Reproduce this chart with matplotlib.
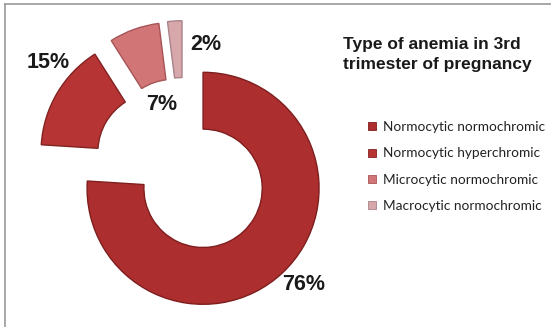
import matplotlib
matplotlib.use("Agg")
import matplotlib.pyplot as plt
import numpy as np
from matplotlib.lines import Line2D

categories = ["Normocytic normochromic", "Normocytic hyperchromic",
              "Microcytic normochromic", "Macrocytic normochromic"]
values = [76, 15, 7, 2]
value_labels = ["76%", "15%", "7%", "2%"]
title = "Type of anemia in 3rd\ntrimester of pregnancy"

colors = ["#AD2E2E", "#B73434", "#D27576", "#D8A7AB"]
edges = ["#7E1E1E", "#822222", "#A65456", "#A8848A"]
explode_frac = [0.24, 0.27, 0.27, 0.27]

W, H = 551, 327
fig = plt.figure(figsize=(W / 100, H / 100), dpi=100)
fig.patch.set_facecolor("white")
ax = fig.add_axes([0, 0, 1, 1])

R = 116
center = (184, H - 168)
wedges, _ = ax.pie(values, radius=R, center=center, startangle=90,
                   counterclock=False, explode=[e * R for e in explode_frac],
                   colors=colors, frame=True,
                   wedgeprops=dict(width=R * 0.49, linewidth=1.0))
for w, ec in zip(wedges, edges):
    w.set_edgecolor(ec)
ax.set_xlim(0, W)
ax.set_ylim(0, H)
ax.set_aspect("equal")
ax.axis("off")

# percentage labels (layout positions in pixel units)
label_pos = [(304, H - 285), (48, H - 62), (162, H - 105), (206, H - 44)]
for (x, y), t in zip(label_pos, value_labels):
    ax.text(x, y, t, ha="center", va="center", fontsize=15.5,
            fontweight="bold", family="Liberation Sans", color="#1a1a1a")

ax.text(343, H - 37, title, ha="left", va="top", fontsize=12.5,
        fontweight="bold", family="Liberation Sans", color="#1a1a1a",
        linespacing=1.4)

handles = [Line2D([], [], marker="s", linestyle="none", markersize=6,
                  markerfacecolor=c, markeredgecolor=e, markeredgewidth=0.6)
           for c, e in zip(colors, edges)]
leg = ax.legend(handles, categories, loc="upper left",
                bbox_to_anchor=(367 / W, 1 - 121 / H), frameon=False,
                prop=dict(family="Lato", size=9.8), labelspacing=1.05,
                handlelength=0.7, handletextpad=0.45, borderaxespad=0,
                borderpad=0)
for t in leg.get_texts():
    t.set_color("#222222")

# chart border (top and left)
fig.add_artist(Line2D([5 / W, 5 / W], [0, 1 - 4 / H], color="#9a9a9a",
                      linewidth=1.2, transform=fig.transFigure))
fig.add_artist(Line2D([5 / W, 1], [1 - 4 / H, 1 - 4 / H], color="#9a9a9a",
                      linewidth=1.2, transform=fig.transFigure))

fig.savefig("out.png", dpi=100, facecolor="white")
